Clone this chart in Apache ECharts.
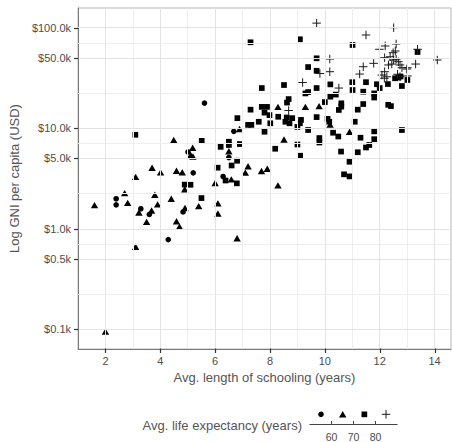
<!DOCTYPE html>
<html><head><meta charset="utf-8">
<script src="https://cdn.jsdelivr.net/npm/echarts@6/dist/echarts.min.js"></script>
<style>html,body{margin:0;padding:0;background:#fff}#c{width:452px;height:442px}</style>
</head><body><div id="c"></div>
<script>
// ---- data ----
const lifeBinNames = ['< 60', '60-70', '70-80', '> 80'];
const legendTickLabels = ['60', '70', '80'];
const xTickValues = [2, 4, 6, 8, 10, 12, 14];
const yTickValues = [100, 500, 1000, 5000, 10000, 50000, 100000];
const yTickLabels = ['$0.1k', '$0.5k', '$1.0k', '$5.0k', '$10.0k', '$50.0k', '$100.0k'];

// [avg. years of schooling, GNI per capita (USD)]
const lifeUnder60 = [[5.61,17800],[6.68,9310],[5.01,5800],[5.20,3600],[2.39,1990],[2.39,1730],[3.29,1580],[3.60,1390],[4.83,1470],[6.29,3310],[6.50,5110],[4.29,781]];

const life60to70 = [[6.89,9820],[8.29,16300],[9.29,16300],[9.79,16600],[10.90,9230],[10.19,10900],[8.51,7720],[4.49,7630],[5.18,6400],[5.11,5410],[5.19,5230],[6.50,5900],[7.20,4180],[7.10,3620],[7.69,3750],[7.90,3950],[8.29,2700],[6.59,3100],[6.00,2850],[6.10,1790],[6.10,1420],[6.80,804],[3.70,4040],[4.01,3640],[4.59,3780],[4.80,3650],[3.10,3280],[4.89,2470],[2.70,2260],[3.80,2180],[1.60,1720],[2.81,1810],[4.40,1990],[5.40,1680],[3.90,1750],[3.22,1450],[3.68,1520],[4.90,1610],[3.50,1170],[4.59,1190],[4.70,1050],[3.10,662],[2.00,95]];

const life70to80 = [[7.29,71600],[9.09,76700],[11.01,67300],[13.38,57300],[9.70,49600],[9.39,40600],[9.70,37300],[8.51,26900],[7.70,25100],[9.70,25100],[10.20,27300],[11.00,28700],[11.50,28700],[11.90,27400],[12.30,27500],[12.56,31400],[12.68,31900],[12.76,32700],[13.01,30200],[12.81,26300],[12.00,25100],[11.01,24000],[11.40,23100],[11.80,22200],[11.80,20200],[9.29,22200],[9.39,22900],[8.68,19500],[8.62,18000],[10.20,20600],[10.40,21600],[10.00,18200],[10.60,17700],[10.60,16400],[11.40,17400],[12.31,17100],[12.41,16600],[7.29,15300],[7.70,16300],[7.89,16300],[7.80,14300],[7.98,13500],[10.51,15200],[11.20,15300],[6.81,12600],[8.30,13000],[8.61,12800],[8.81,12600],[8.71,11200],[8.56,11600],[9.70,12900],[10.10,12400],[10.16,11600],[11.09,11600],[7.59,11600],[8.01,11200],[9.13,12100],[9.09,11200],[7.20,10800],[7.32,10800],[7.80,9230],[9.00,10300],[9.39,9600],[10.30,9020],[10.49,8270],[11.30,8050],[11.80,9310],[11.80,7780],[12.81,9600],[3.09,8610],[5.51,7490],[6.20,6530],[6.50,7340],[6.50,6810],[6.90,6960],[9.00,6890],[9.10,5330],[9.80,7990],[9.80,7210],[8.19,6250],[10.59,5860],[11.20,5770],[11.50,6430],[11.62,6810],[10.90,4640],[10.70,3480],[10.90,3320],[6.80,4750],[6.60,4260],[6.09,4050],[6.38,3020],[6.79,2830],[4.89,2750],[5.10,2740],[5.50,2020]];

const lifeOver80 = [[9.70,111000],[11.50,84600],[12.51,100000],[11.99,61000],[12.20,65800],[12.60,68900],[13.38,61000],[14.10,47700],[10.18,48800],[12.57,58600],[12.18,50300],[12.38,51400],[12.50,47700],[12.60,48500],[12.68,45900],[12.44,43500],[12.32,42600],[12.74,42600],[12.81,40000],[13.01,40000],[13.31,43500],[11.78,44200],[11.40,40900],[11.27,34600],[10.18,36500],[9.82,35000],[12.08,33800],[12.18,36500],[12.26,32500],[12.17,31400],[12.65,34400],[12.74,32500],[13.01,33100],[9.19,28500],[10.51,25100],[8.68,15000],[12.99,38800],[12.49,56400]];

// ---- chart ----
const FONT = 'Liberation Sans, Arial, sans-serif';
const chart = echarts.init(document.getElementById('c'), null, {renderer: 'svg'});

const xMinorGrid = [3, 5, 7, 9, 11, 13];
const yMinorGrid = [];
for (let i = 0; i < yTickValues.length - 1; i++) yMinorGrid.push(Math.sqrt(yTickValues[i] * yTickValues[i + 1]));

function yLabel(v) {
  const i = yTickValues.findIndex(t => Math.abs(t - v) / t < 1e-4);
  return i < 0 ? '' : yTickLabels[i];
}

const majorLine = {color: '#e3e3e3', width: 1, type: 'solid'};
const minorLine = {color: '#eeeeee', width: 1, type: 'solid'};
const gridLines = []
  .concat(xTickValues.map(v => ({xAxis: v, lineStyle: majorLine})))
  .concat(xMinorGrid.map(v => ({xAxis: v, lineStyle: minorLine})))
  .concat(yTickValues.map(v => ({yAxis: v, lineStyle: majorLine})))
  .concat(yMinorGrid.map(v => ({yAxis: v, lineStyle: minorLine})));

const plusPath = 'path://M0,-1L0,1M-1,0L1,0';

const option = {
  animation: false,
  backgroundColor: '#ffffff',
  grid: {left: 75, top: 8, right: 1, bottom: 93, show: true, borderColor: '#b5b5b5', borderWidth: 1, backgroundColor: '#fff'},
  xAxis: {
    type: 'value', min: 1, max: 14.6, interval: 1,
    name: 'Avg. length of schooling (years)', nameLocation: 'middle', nameGap: 20,
    nameTextStyle: {color: '#555', fontSize: 13, fontFamily: FONT},
    axisLine: {show: true, onZero: false, lineStyle: {color: '#7a7a7a', width: 1}},
    axisTick: {show: false},
    axisLabel: {customValues: xTickValues, color: '#4d4d4d', fontSize: 11, margin: 6, fontFamily: FONT},
    splitLine: {show: false}
  },
  yAxis: {
    type: 'log', logBase: 10, min: 63.7, max: 157000,
    name: 'Log GNI per capita (USD)', nameLocation: 'middle', nameGap: 50,
    nameTextStyle: {color: '#555', fontSize: 13, fontFamily: FONT},
    axisLine: {show: true, lineStyle: {color: '#7a7a7a', width: 1}},
    axisTick: {show: false},
    axisLabel: {customValues: yTickValues, formatter: yLabel, color: '#4d4d4d', fontSize: 11, margin: 7, fontFamily: FONT},
    splitLine: {show: false}
  },
  series: [
    {type: 'scatter', data: [], silent: true, z: 1,
     markLine: {silent: true, symbol: ['none', 'none'], animation: false, label: {show: false}, data: gridLines}},
    {name: lifeBinNames[0], type: 'scatter', z: 3, data: lifeUnder60, symbol: 'circle', symbolSize: 5.6,
     itemStyle: {color: '#000', opacity: 1}},
    {name: lifeBinNames[1], type: 'scatter', z: 3, data: life60to70, symbol: 'triangle', symbolSize: [7.4, 6.4],
     itemStyle: {color: '#000', opacity: 1}},
    {name: lifeBinNames[2], type: 'scatter', z: 3, data: life70to80, symbol: 'rect', symbolSize: 5.7,
     itemStyle: {color: '#000', opacity: 1}},
    {name: lifeBinNames[3], type: 'scatter', z: 3, data: lifeOver80, symbol: plusPath, symbolSize: 8.5,
     itemStyle: {color: '#000', borderColor: '#1a1a1a', borderWidth: 1, opacity: 1}}
  ]
};
chart.setOption(option);

// axis ticks and legend (placed through the axis scales)
const graphics = [];
const axisX = Math.round(chart.convertToPixel({xAxisIndex: 0}, 1)) + 0.5;
const axisY = Math.round(chart.convertToPixel({yAxisIndex: 0}, 63.7)) - 0.5;
yTickValues.forEach(v => {
  const p = Math.round(chart.convertToPixel({yAxisIndex: 0}, v)) + 0.5;
  graphics.push({type: 'line', silent: true, z: 10, shape: {x1: axisX - 4.5, y1: p, x2: axisX, y2: p}, style: {stroke: '#333', lineWidth: 1.2}});
});
xTickValues.forEach(v => {
  const p = Math.round(chart.convertToPixel({xAxisIndex: 0}, v)) + 0.5;
  graphics.push({type: 'line', silent: true, z: 10, shape: {x1: p, y1: axisY, x2: p, y2: axisY + 4.5}, style: {stroke: '#333', lineWidth: 1.2}});
});

// binned legend
const legendTickX = [331.5, 353.5, 375.5];
graphics.push(
  {type: 'text', x: 302, y: 425, style: {text: 'Avg. life expectancy (years)', align: 'right', verticalAlign: 'middle', fill: '#555', font: '13px ' + FONT}},
  {type: 'line', shape: {x1: 309.5, y1: 424.5, x2: 397.5, y2: 424.5}, style: {stroke: '#444', lineWidth: 1}}
);
legendTickX.forEach((x, i) => {
  graphics.push(
    {type: 'line', shape: {x1: x, y1: 421, x2: x, y2: 424.5}, style: {stroke: '#444', lineWidth: 1}},
    {type: 'text', x: x, y: 437, style: {text: legendTickLabels[i], align: 'center', verticalAlign: 'middle', fill: '#4d4d4d', font: '10.5px ' + FONT}}
  );
});
graphics.push(
  {type: 'circle', shape: {cx: 321, cy: 414.3, r: 2.8}, style: {fill: '#000'}},
  {type: 'polygon', shape: {points: [[342.7, 411.1], [339, 417.5], [346.4, 417.5]]}, style: {fill: '#000'}},
  {type: 'rect', shape: {x: 361.5, y: 411.5, width: 5.7, height: 5.7}, style: {fill: '#000'}},
  {type: 'line', shape: {x1: 386, y1: 410, x2: 386, y2: 418.5}, style: {stroke: '#1a1a1a', lineWidth: 1}},
  {type: 'line', shape: {x1: 381.8, y1: 414.3, x2: 390.2, y2: 414.3}, style: {stroke: '#1a1a1a', lineWidth: 1}}
);
chart.setOption({graphic: graphics});
</script></body></html>
